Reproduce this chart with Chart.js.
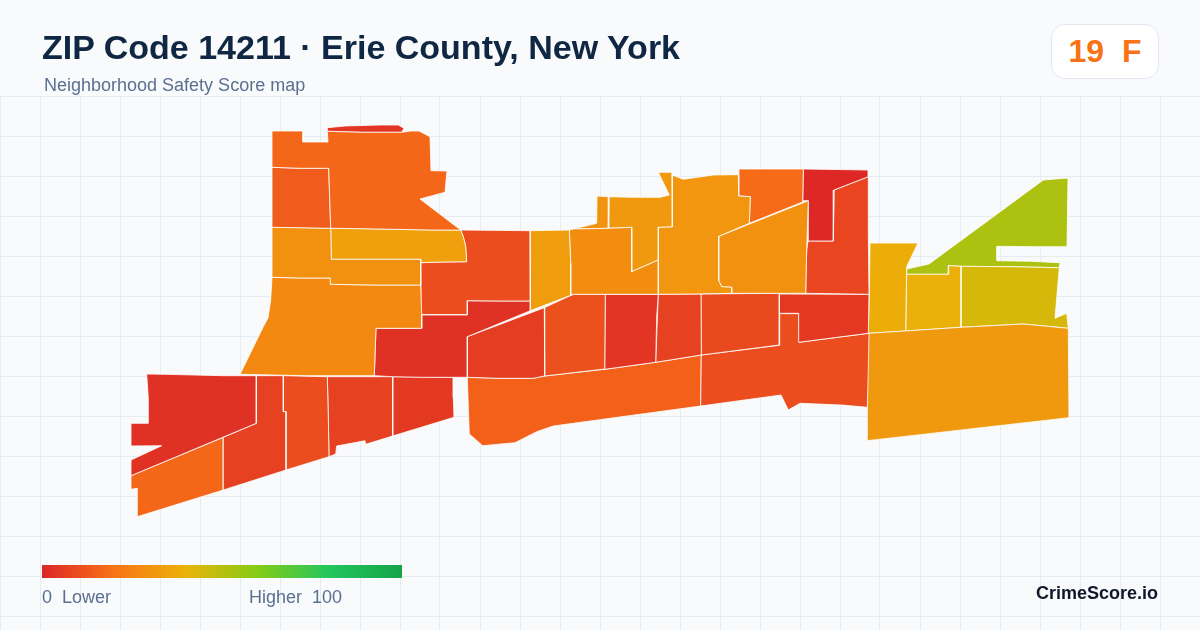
<!DOCTYPE html>
<html lang="en"><head><meta charset="utf-8"><title>ZIP Code 14211</title>
<script src="https://cdn.jsdelivr.net/npm/chart.js@4/dist/chart.umd.min.js"></script>
<style>
html,body{margin:0;padding:0;background:#f8fafc;}
body{width:1200px;height:630px;position:relative;overflow:hidden;font-family:"Liberation Sans",Arial,sans-serif;}
#c{position:absolute;left:0;top:0;}
.t{position:absolute;white-space:pre;line-height:1;}
#title{left:42px;top:30px;font-size:34px;font-weight:700;color:#0f2742;}
#sub{left:44px;top:76px;font-size:18px;color:#5a7090;}
#badge{position:absolute;left:1051px;top:24px;width:106px;height:53px;background:#fff;border:1px solid #e2e8f0;border-radius:14px;
  font-size:32px;font-weight:700;color:#f97316;text-align:center;line-height:53px;white-space:pre;}
#bar{position:absolute;left:42px;top:565px;width:360px;height:13px;}
#lo{left:42px;top:588px;font-size:18px;color:#5a7090;}
#hi{left:249px;top:588px;font-size:18px;color:#5a7090;}
#brand{left:1036px;top:584px;font-size:18px;font-weight:700;color:#0f172a;}
</style></head><body>
<canvas id="c" width="1200" height="630"></canvas>
<div class="t" id="title"></div><div class="t" id="sub"></div><div id="badge"></div>
<div id="bar"></div><div class="t" id="lo"></div><div class="t" id="hi"></div><div class="t" id="brand"></div>
<script>
const titleText="ZIP Code 14211 · Erie County, New York";
const subtitleText="Neighborhood Safety Score map";
const gradeText="19  F";
const lowLabel="0  Lower";
const highLabel="Higher  100";
const brandText="CrimeScore.io";
const scaleStops=[0,20,40,60,80,100];
const scaleColors=["#dc2626","#f97316","#eab308","#84cc16","#22c55e","#16a34a"];
const gridX=[0,40,80,120,160,200,240,280,320,360,400,440,480,520,560,600,640,680,720,760,800,840,880,920,960,1000,1040,1080,1120,1160];
const gridY=[96,136,176,216,256,296,336,376,416,456,496,536,576,616];

const scores=[17,4,14,29,34,27,10,3,33,28,30,32,31,18,29,0.5,8,6,11,4,7,9,5,10,15,32,38,39,44,52,3,7,10,7,5,17];

const nwTract=[272,131,303,131,303,142,328,142,327.3,131.3,361.7,132.3,401.7,132.3,410.7,131,419,131,430,136.7,431,170.7,447,171,445,192.3,420,199,460.7,230,431.7,230,363.3,228.7,330.7,228.3,328.7,168.3,300,168.3,272,167.3];
const sliverTract=[327.3,127.7,345,126,380,125,398.3,125,404,128.3,401.7,132.3,361.7,132.3,327.3,131.3];
const westTract=[272,167.3,300,168.3,328.7,168.3,330.7,228.3,301,227.7,272,227.3];
const midWestTract=[272,227.3,301,227.7,330.7,228.3,331.3,259.3,420.7,259.3,420.7,285,375.7,285,330.7,284.3,330.3,278,301,278,272,277.3];
const amberNorthTract=[330.7,228.3,363.3,228.7,431.7,230,460.7,230,463.3,236.7,465.7,246.7,466.7,261.7,443.3,262,420.7,262.7,420.7,259.3,331.3,259.3];
const bigWestTract=[272,277.3,301,278,330.3,278,330.7,284.3,375.7,285,420.7,285,421.7,315,421.7,328.3,376,328.3,374.3,375.7,306.7,375.7,240,374.3,263.3,326.7,268,318,270.7,300];
const centralTract=[460.7,230,530,230.7,530.3,301,499,301,467.3,300.7,467.3,314.5,421.2,314.5,420.7,262.7,443.3,262,466.7,261.7,465.7,246.7,463.3,236.7];
const centerRedTract=[467.3,300.7,499,301,530.3,301,530.3,310.7,467.3,336.7,467.3,377.3,421.7,377.3,392.7,376.7,374.3,375.7,376,328.3,421.7,328.3,421.7,315,467.3,315];
const stripTract=[530,230.7,569.3,230,570.7,263.3,570.7,295,573.3,294.3,530.3,310.7];
const northMidTract=[569.3,230,573.3,229,608.3,228.3,631.7,227.3,631.7,271.7,658.3,260,658.3,294.3,573.3,294.3,570.7,295,570.7,263.3];
const tailTract=[573.3,229,596.7,223.3,597,196,609,196.7,608.3,228.3];
const notchTract=[609,196.7,633.3,197.3,660,197.3,669.3,195,658.3,172.3,672,172.3,672.3,226.7,658.3,227.3,658.3,260,631.7,271.7,631.7,227.3,608.3,228.3];
const northTract=[672.3,175,683.3,179.3,713.3,175,738.3,174.7,738.7,196,750.3,196.7,749.3,223.3,718.7,236.3,718.7,280.7,721.7,286.7,731.7,287.3,731.7,293.3,695,294,658.3,294.3,658.3,227.3,672.3,226.7];
const topOrangeTract=[739,169,803.3,169,802.7,202,749.3,223.3,750.3,196.7,738.7,196];
const wedgeTract=[718.7,236.3,808.3,200.7,806.7,250,805.7,293.3,731.7,293.3,731.7,287.3,721.7,286.7,718.7,280.7];
const deepRedTract=[803.3,169,868.3,170,868.3,176.7,834,190,833.3,241,808,241,808.3,200.7,802.7,200.7];
const eastRedTract=[868.3,176.7,834,190,833.3,241,808,241,806.7,250,805.7,293.3,869,294.3,868.3,235];
const rowOne=[467.3,336.7,544.3,307.7,544.7,376,533.3,378.3,499,378.3,467.3,377.3];
const rowTwo=[544.3,307.7,573.3,294.3,605.3,294.3,604.7,369,544.7,376];
const rowThree=[605.3,294.3,658.3,294.3,656.7,316.7,655.7,362.3,604.7,369.3];
const rowFour=[658.3,294.3,701,294,701.3,355,655.7,362.3];
const rowFive=[701,294,779.3,293.3,779.3,345,701.3,355];
const rowSix=[779.3,294,869,294.3,868.3,333.3,798.7,342.3,798.7,313.3,779.3,313.3];
const southEastTract=[701.3,355,779.3,345.3,779.7,313.7,798.7,313.7,799,342.3,869,333.3,868.3,370,867.3,407.3,841.7,405,800,403.3,788.3,410,781,395,700.7,406];
const southTract=[467.3,377.3,499,378.3,533.3,378.3,544.7,376,604.7,369.3,655.7,362.3,701.3,355,700.7,406,553.3,426,536.7,431.7,515,442.7,482.7,445.7,469.3,434,468.3,406.7];
const farEastTract=[868.3,333.3,905,331,961,327.3,1023.3,324,1068.3,328.3,1069,417.7,867.3,440.7,867.3,370];
const eastAmberTract=[870,243,918,243,906.7,266.7,905.7,331,868.3,333.3,869.3,294];
const eastYellowTract=[906.7,274.3,948.3,274.3,948.7,265.7,961,266.3,961,327.3,905.7,331];
const eastGoldTract=[961,266.3,1010,266.7,1059.3,267.7,1055,318.3,1066.7,313.3,1068.3,328.3,1023.3,324,961,327.3];
const limeTract=[906.7,269,929,264,1043.3,180,1068,178,1067,246.7,1033.3,246.7,997,246.3,997,260.7,1030,261.3,1060,262.7,1059.3,267.7,1010,266.7,961,266.3,948.7,265.7,948.3,274.3,906.7,274.3];
const swRedTract=[146.7,374,165,374.3,223.3,375.7,256.3,375.7,256.3,423.3,131,475.7,131,460,161.7,445.7,131,446,131,423.3,148.3,423.3,148.3,398.3];
const swTwoTract=[256.3,375.7,283.3,375.7,283.3,411.7,286,411.7,286,470,223.3,490,223.3,437.3,256.3,423.3];
const swThreeTract=[283.3,375.7,327.3,376.7,328.3,416.7,329,456.7,286,470,286,411.7,283.3,411.7];
const swFourTract=[327.3,376.7,392.7,376.7,392.7,436,365.7,444.3,365,440.7,336.7,446,335.7,454,329,456.7,328.3,416.7];
const swFiveTract=[392.7,376.7,453.3,377.3,453.3,397.3,454,417.3,392.7,436];
const swOrangeTract=[131,475.7,223.3,437.3,223.3,490,137.3,516.7,137.3,488.3,131,489.3];

const tracts=[nwTract,sliverTract,westTract,midWestTract,amberNorthTract,bigWestTract,centralTract,centerRedTract,stripTract,northMidTract,tailTract,notchTract,northTract,topOrangeTract,wedgeTract,deepRedTract,eastRedTract,rowOne,rowTwo,rowThree,rowFour,rowFive,rowSix,southEastTract,southTract,farEastTract,eastAmberTract,eastYellowTract,eastGoldTract,limeTract,swRedTract,swTwoTract,swThreeTract,swFourTract,swFiveTract,swOrangeTract];

function hexRgb(h){return [1,3,5].map(i=>parseInt(h.substr(i,2),16));}
function colorFor(v){
  let i=0; while(i<scaleStops.length-2&&v>scaleStops[i+1])i++;
  const t=(v-scaleStops[i])/(scaleStops[i+1]-scaleStops[i]);
  const a=hexRgb(scaleColors[i]),b=hexRgb(scaleColors[i+1]);
  return "rgb("+a.map((c,k)=>Math.round(c+(b[k]-c)*t)).join(",")+")";
}
function toPoints(flat){
  const p=[];for(let i=0;i<flat.length;i+=2)p.push({x:flat[i],y:flat[i+1]});
  p.push({x:flat[0],y:flat[1]});return p;
}
document.getElementById("title").textContent=titleText;
document.getElementById("sub").textContent=subtitleText;
document.getElementById("badge").textContent=gradeText;
document.getElementById("lo").textContent=lowLabel;
document.getElementById("hi").textContent=highLabel;
document.getElementById("brand").textContent=brandText;
document.getElementById("bar").style.background="linear-gradient(90deg,"+scaleColors.map((c,i)=>c+" "+scaleStops[i]+"%").join(",")+")";

new Chart(document.getElementById("c"),{
  type:"scatter",
  data:{datasets:tracts.map((t,i)=>({
    label:"Tract "+(i+1),
    data:toPoints(t),
    showLine:true,
    fill:"shape",
    tension:0,
    backgroundColor:colorFor(scores[i]),
    borderColor:"#ffffff",
    borderWidth:0.8,
    pointRadius:0,
    pointHoverRadius:0
  }))},
  options:{
    responsive:false,animation:false,devicePixelRatio:1,
    layout:{padding:{top:96,left:0,right:0,bottom:0}},
    plugins:{legend:{display:false},tooltip:{enabled:false},title:{display:false}},
    scales:{
      x:{type:"linear",min:0,max:1200,
        afterBuildTicks(a){a.ticks=gridX.map(v=>({value:v}));},
        ticks:{display:false},border:{display:false},
        grid:{color:"#e6edf2",lineWidth:1,drawTicks:false}},
      y:{type:"linear",min:96,max:630,reverse:true,
        afterBuildTicks(a){a.ticks=gridY.map(v=>({value:v}));},
        ticks:{display:false},border:{display:false},
        grid:{color:"#e6edf2",lineWidth:1,drawTicks:false}}
    }
  }
});
</script></body></html>
